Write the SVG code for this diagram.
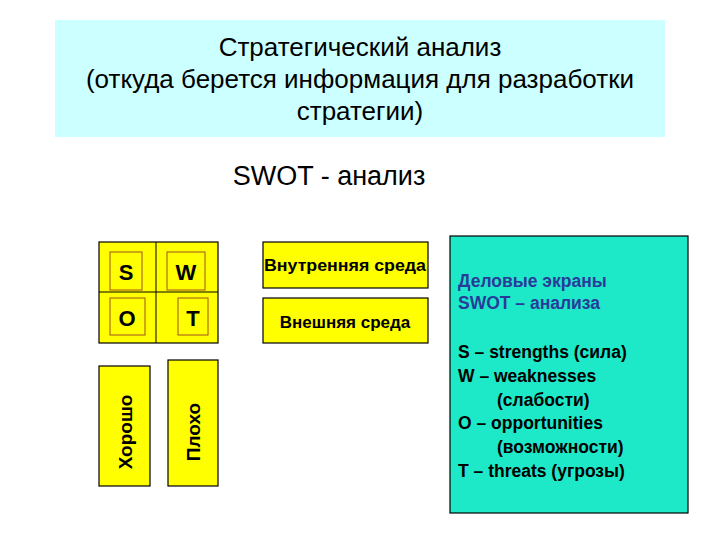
<svg xmlns="http://www.w3.org/2000/svg" width="720" height="540" viewBox="0 0 720 540">
<style>
text{font-family:"Liberation Sans",Arial,sans-serif;fill:#000}
.y{fill:#ffff00;stroke:#000;stroke-width:1.2}
.in{fill:none;stroke:#a05020;stroke-width:1}
.b{font-weight:bold}
</style>
<rect width="720" height="540" fill="#fff"/>
<g id="title">
<rect x="55" y="20" width="610" height="117" fill="#ccffff"/>
<text x="360" y="56" font-size="26" text-anchor="middle">Стратегический анализ</text>
<text x="360" y="88" font-size="26" text-anchor="middle">(откуда берется информация для разработки</text>
<text x="360" y="120" font-size="26" text-anchor="middle">стратегии)</text>
</g>
<g id="subtitle"><text x="329" y="185" font-size="27" text-anchor="middle">SWOT - анализ</text></g>
<g id="swot">
<rect class="y" x="99" y="242" width="119" height="101"/>
<line x1="156" y1="242" x2="156" y2="343" stroke="#000"/>
<line x1="99" y1="292" x2="218" y2="292" stroke="#000"/>
<rect class="in" x="110" y="252" width="32" height="38"/>
<rect class="in" x="167" y="252" width="38" height="38"/>
<rect class="in" x="110" y="298" width="35" height="37"/>
<rect class="in" x="178" y="298" width="30" height="37"/>
<text class="b" x="126" y="280" font-size="22" text-anchor="middle">S</text>
<text class="b" x="186" y="280" font-size="22" text-anchor="middle">W</text>
<text class="b" x="127" y="326" font-size="22" text-anchor="middle">O</text>
<text class="b" x="193" y="326" font-size="22" text-anchor="middle">T</text>
</g>
<g id="good">
<rect class="y" x="99" y="366" width="51" height="120"/>
<text class="b" font-size="19" text-anchor="middle" transform="translate(132,432) rotate(-90)">Хорошо</text>
</g>
<g id="bad">
<rect class="y" x="168" y="360" width="50" height="126"/>
<text class="b" font-size="19" text-anchor="middle" transform="translate(200,432) rotate(-90)">Плохо</text>
</g>
<g id="internal">
<rect class="y" x="263" y="242" width="165" height="46"/>
<text class="b" x="345" y="271" font-size="16.5" text-anchor="middle" textLength="162" lengthAdjust="spacingAndGlyphs">Внутренняя среда</text>
</g>
<g id="external">
<rect class="y" x="263" y="298" width="165" height="45"/>
<text class="b" x="345" y="328" font-size="17" text-anchor="middle">Внешняя среда</text>
</g>
<g id="legend">
<rect x="450" y="236" width="238" height="277" fill="#1de9c8" stroke="#000" stroke-width="1.2"/>
<g class="b" font-size="17.5">
<text x="458" y="287" style="fill:#2a3a9a">Деловые экраны</text>
<text x="458" y="309" style="fill:#2a3a9a">SWOT – анализа</text>
<text x="458" y="358">S – strengths (сила)</text>
<text x="458" y="382">W – weaknesses</text>
<text x="497" y="406">(слабости)</text>
<text x="458" y="429">O – opportunities</text>
<text x="497" y="453">(возможности)</text>
<text x="458" y="477">T – threats (угрозы)</text>
</g>
</g>
</svg>
